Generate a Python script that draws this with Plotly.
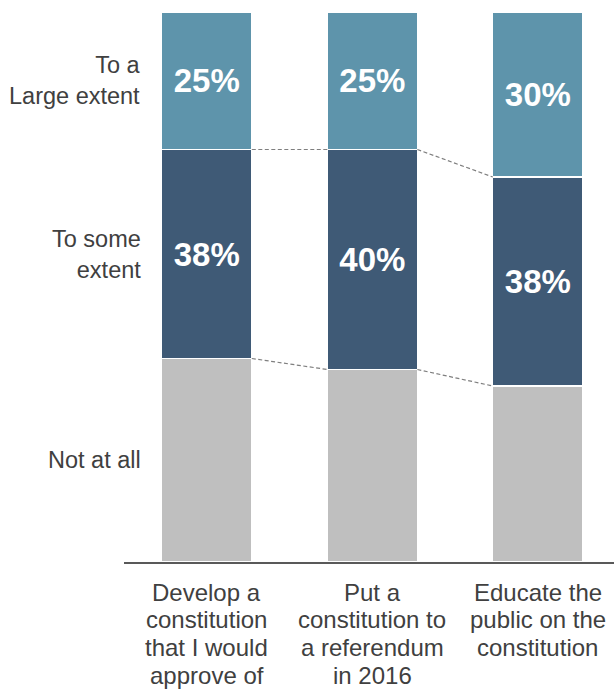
import plotly.graph_objects as go

# Survey responses (% of respondents) per goal
goals = [
    ["Develop a", "constitution", "that I would", "approve of"],
    ["Put a", "constitution to", "a referendum", "in 2016"],
    ["Educate the", "public on the", "constitution"],
]
not_at_all = [37, 35, 32]
some_extent = [38, 40, 38]
large_extent = [25, 25, 30]

series = [
    ("Not at all", not_at_all, "#BFBFBF", False),
    ("To some<br>extent", some_extent, "#3F5A76", True),
    ("To a<br>Large extent", large_extent, "#5E94AB", True),
]

x = list(range(len(goals)))
bar_w = 0.544
label_font = "Liberation Sans, Arial, sans-serif"
text_grey = "#404040"

fig = go.Figure()
for name, vals, color, show_text in series:
    fig.add_trace(go.Bar(
        x=x, y=vals, name=name, width=bar_w,
        marker=dict(color=color, line=dict(color="white", width=1.2)),
        text=[f"{v}%" for v in vals] if show_text else None,
        textposition="inside" if show_text else "none",
        insidetextanchor="middle",
        textfont=dict(family=label_font, size=33, color="white", weight="bold"),
        hoverinfo="skip",
    ))

# Dashed connectors between segment boundaries of neighbouring bars
cum_low = not_at_all
cum_mid = [a + b for a, b in zip(not_at_all, some_extent)]
for levels in (cum_low, cum_mid):
    for i in range(len(x) - 1):
        fig.add_shape(
            type="line", xref="x", yref="y",
            x0=x[i] + bar_w / 2, y0=levels[i],
            x1=x[i + 1] - bar_w / 2, y1=levels[i + 1],
            line=dict(color="#7F7F7F", width=1.2, dash="4px,2.5px"),
        )

# Row labels on the left, centred on the first bar's segments
bottoms = [0, not_at_all[0], cum_mid[0]]
for (name, vals, _, _), base in zip(series, bottoms):
    fig.add_annotation(
        xref="paper", yref="y", x=0, xshift=19, xanchor="right",
        y=base + vals[0] / 2, yanchor="middle",
        text=name, showarrow=False, align="right",
        font=dict(family=label_font, size=23.5, color=text_grey),
    )

# Category labels under the axis, one line at a time
line_gap = 27.7
for i, lines in enumerate(goals):
    for j, line in enumerate(lines):
        fig.add_annotation(
            xref="x", yref="paper", x=x[i], y=0,
            yanchor="middle", xanchor="center",
            yshift=-30 - j * line_gap,
            text=line, showarrow=False,
            font=dict(family=label_font, size=24, color=text_grey),
        )

fig.update_layout(
    width=614, height=690,
    margin=dict(l=124, r=0, t=12, b=128),
    barmode="stack",
    showlegend=False,
    plot_bgcolor="white", paper_bgcolor="white",
    xaxis=dict(range=[-0.5, 2.46], showticklabels=False, ticks="",
               showgrid=False, zeroline=False, showline=True,
               linecolor="#595959", linewidth=1.5, fixedrange=True),
    yaxis=dict(range=[0, 100], visible=False, fixedrange=True),
)

fig.write_html("out.html")
